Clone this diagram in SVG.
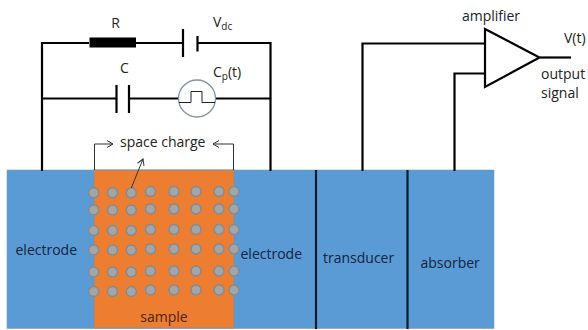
<svg xmlns="http://www.w3.org/2000/svg" width="588" height="330" viewBox="0 0 588 330">
<defs>
<marker id="ah" markerWidth="9" markerHeight="9" refX="7" refY="4" orient="auto" markerUnits="userSpaceOnUse"><path d="M1 0.5L7 4L1 7.5" fill="none" stroke="#333" stroke-width="1"/></marker>
</defs>
<style>
text{font-family:"Open Sans","Noto Sans","Liberation Sans",sans-serif;font-size:14px;fill:#222}
.d{fill:#10233f}
.w{fill:none;stroke:#000;stroke-width:2.2}
.t{fill:none;stroke:#333;stroke-width:1}
.c{fill:#a5a5a5;stroke:#7f8c96;stroke-width:1.4}
</style>
<rect width="588" height="330" fill="#fff"/>
<g id="layers">
<rect x="7" y="170" width="487" height="158.500" fill="#5b9bd5" stroke="#7f9ab5" stroke-width="0.600"/>
</g>
<g id="sample">
<rect x="94" y="170" width="140" height="158" fill="#ed7d31" stroke="#8a8d90" stroke-width="1"/>
<text x="164" y="322" text-anchor="middle" style="fill:#4a2408">sample</text>
</g>
<g id="charges">
<circle class="c" cx="93.700" cy="192.700" r="5"/><circle class="c" cx="112.500" cy="192.700" r="5"/><circle class="c" cx="131.300" cy="192.700" r="5"/><circle class="c" cx="150.500" cy="191.500" r="5"/><circle class="c" cx="174" cy="191.500" r="5"/><circle class="c" cx="196" cy="191.500" r="5"/><circle class="c" cx="219" cy="191.500" r="5"/><circle class="c" cx="234" cy="191.500" r="5"/>
<circle class="c" cx="93.700" cy="210" r="5"/><circle class="c" cx="112.500" cy="210" r="5"/><circle class="c" cx="131.300" cy="210" r="5"/><circle class="c" cx="150.500" cy="209" r="5"/><circle class="c" cx="174" cy="209" r="5"/><circle class="c" cx="196" cy="209" r="5"/><circle class="c" cx="219" cy="209" r="5"/><circle class="c" cx="234" cy="209" r="5"/>
<circle class="c" cx="93.700" cy="230.500" r="5"/><circle class="c" cx="112.500" cy="230.500" r="5"/><circle class="c" cx="131.300" cy="230.500" r="5"/><circle class="c" cx="150.500" cy="229.500" r="5"/><circle class="c" cx="174" cy="229.500" r="5"/><circle class="c" cx="196" cy="229.500" r="5"/><circle class="c" cx="219" cy="229.500" r="5"/><circle class="c" cx="234" cy="229.500" r="5"/>
<circle class="c" cx="93.700" cy="250" r="5"/><circle class="c" cx="112.500" cy="250" r="5"/><circle class="c" cx="131.300" cy="250" r="5"/><circle class="c" cx="150.500" cy="249" r="5"/><circle class="c" cx="174" cy="249" r="5"/><circle class="c" cx="196" cy="249" r="5"/><circle class="c" cx="219" cy="249" r="5"/><circle class="c" cx="234" cy="249" r="5"/>
<circle class="c" cx="93.700" cy="272" r="5"/><circle class="c" cx="112.500" cy="272" r="5"/><circle class="c" cx="131.300" cy="272" r="5"/><circle class="c" cx="150.500" cy="271" r="5"/><circle class="c" cx="174" cy="271" r="5"/><circle class="c" cx="196" cy="271" r="5"/><circle class="c" cx="219" cy="271" r="5"/><circle class="c" cx="234" cy="271" r="5"/>
<circle class="c" cx="93.700" cy="291.500" r="5"/><circle class="c" cx="112.500" cy="291.500" r="5"/><circle class="c" cx="131.300" cy="291.500" r="5"/><circle class="c" cx="150.500" cy="290" r="5"/><circle class="c" cx="174" cy="290" r="5"/><circle class="c" cx="196" cy="290" r="5"/><circle class="c" cx="219" cy="290" r="5"/><circle class="c" cx="234" cy="290" r="5"/>
</g>
<g id="connectors">
<path class="w" d="M42 171V43H89M136 43H183M198 43H270.500V171"/>
<path class="w" d="M42 98.500H116M129 98.500H178M216 98.500H270.500"/>
<path class="w" d="M183 29V57M197.500 36V51.500"/>
<path class="w" d="M116.500 85V113M129 85V113"/>
<path class="w" d="M362.500 171V43.500H485M454.500 171V73.500H485"/>
<path class="w" d="M540 57.500H571"/>
<path d="M316 170V329M407.500 170V329" fill="none" stroke="#0a1a2e" stroke-width="2.200"/>
<path class="t" d="M94.500 170V144H113" marker-end="url(#ah)"/>
<path class="t" d="M233.500 170V144H213" marker-end="url(#ah)"/>
<path class="t" d="M131.300 188L143 159" marker-end="url(#ah)"/>
</g>
<g id="resistor"><rect x="89.500" y="37.500" width="46.500" height="10" fill="#000"/><text x="115.500" y="28" text-anchor="middle">R</text></g>
<g id="battery"><text x="213" y="27">V<tspan font-size="10" dy="3">dc</tspan></text></g>
<g id="capacitor"><text x="124.500" y="73" text-anchor="middle">C</text></g>
<g id="source">
<circle cx="197" cy="98.500" r="18.500" fill="#fff" stroke="#7e93a8" stroke-width="1.300"/>
<path d="M179 102.500H191V91.500H202V102.500H215" fill="none" stroke="#222" stroke-width="1"/>
<text x="213" y="77">C<tspan font-size="10" dy="3">p</tspan><tspan dy="-3">(t)</tspan></text>
</g>
<g id="amplifier">
<path d="M485 29L539.500 57.500L485 87Z" fill="#fff" stroke="#000" stroke-width="2.200" stroke-linejoin="miter"/>
<text x="491" y="21" text-anchor="middle">amplifier</text>
<text x="564" y="43">V(t)</text>
<text x="541" y="79">output</text>
<text x="541" y="98">signal</text>
</g>
<g id="labels">
<text x="120" y="147">space charge</text>
<text class="d" x="15.500" y="255" style="fill:#10233f">electrode</text>
<text class="d" x="240.500" y="259" style="fill:#10233f">electrode</text>
<text class="d" x="323" y="263" style="fill:#10233f">transducer</text>
<text class="d" x="420.500" y="268" style="fill:#10233f">absorber</text>
</g>
</svg>
